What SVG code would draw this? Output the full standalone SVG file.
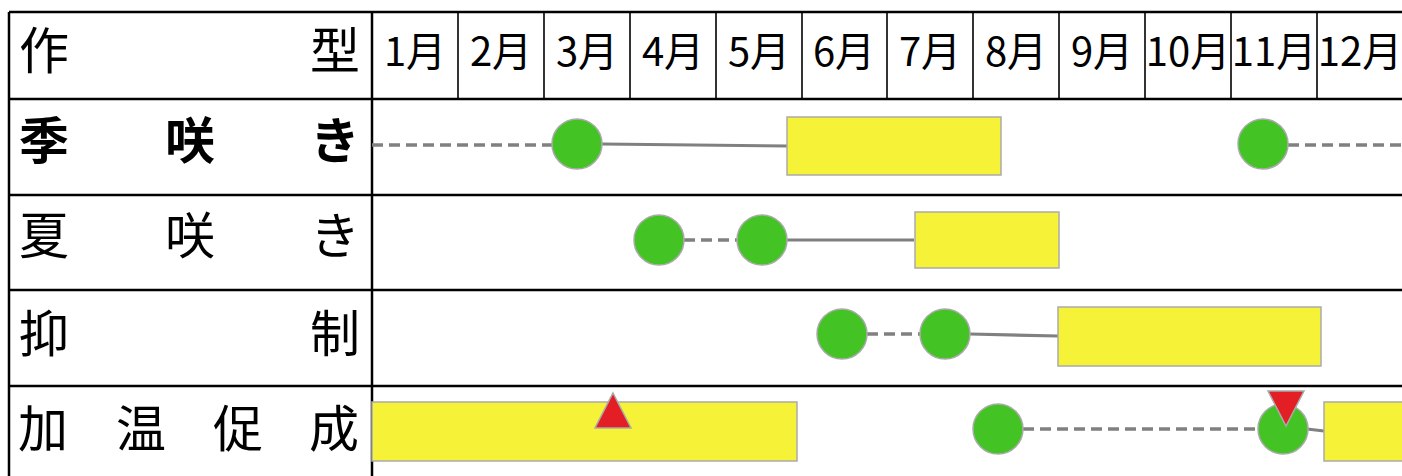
<svg xmlns="http://www.w3.org/2000/svg" width="1402" height="476" viewBox="0 0 1402 476">
  <style>
    .lbl { font-family: "Noto Sans CJK JP", "Noto Sans", sans-serif; font-size: 50px; fill: #000; text-anchor: middle; }
    .bold { font-weight: bold; }
    .mon { font-family: "Noto Sans CJK JP", "Noto Sans", sans-serif; font-size: 40px; fill: #000; text-anchor: middle; }
    .grid { stroke: #000; stroke-width: 2.5; fill: none; }
    .thin { stroke: #000; stroke-width: 1.6; fill: none; }
    .stage { fill: #44c424; stroke: #aaaaaa; stroke-width: 1.5; }
    .bar { fill: #f5f237; stroke: #aaaaaa; stroke-width: 1.5; }
    .mark { fill: #e31e24; stroke: #aaaaaa; stroke-width: 1.5; }
    .solid { stroke: #808080; stroke-width: 3.2; fill: none; }
    .dash { stroke: #808080; stroke-width: 3.6; fill: none; stroke-dasharray: 11 6; }
  </style>
  <rect x="0" y="0" width="1402" height="476" fill="#fff"/>

  <!-- table grid -->
  <g id="grid">
    <line class="grid" x1="9" y1="12" x2="1402" y2="12"/>
    <line class="grid" x1="9" y1="99" x2="1402" y2="99"/>
    <line class="grid" x1="9" y1="195" x2="1402" y2="195"/>
    <line class="grid" x1="9" y1="290" x2="1402" y2="290"/>
    <line class="grid" x1="9" y1="386" x2="1402" y2="386"/>
    <line class="grid" x1="9" y1="12" x2="9" y2="476"/>
    <line class="grid" x1="372" y1="12" x2="372" y2="476"/>
    <line class="thin" x1="458" y1="12" x2="458" y2="99"/>
    <line class="thin" x1="544" y1="12" x2="544" y2="99"/>
    <line class="thin" x1="630" y1="12" x2="630" y2="99"/>
    <line class="thin" x1="716" y1="12" x2="716" y2="99"/>
    <line class="thin" x1="802" y1="12" x2="802" y2="99"/>
    <line class="thin" x1="887" y1="12" x2="887" y2="99"/>
    <line class="thin" x1="973" y1="12" x2="973" y2="99"/>
    <line class="thin" x1="1059" y1="12" x2="1059" y2="99"/>
    <line class="thin" x1="1145" y1="12" x2="1145" y2="99"/>
    <line class="thin" x1="1231" y1="12" x2="1231" y2="99"/>
    <line class="thin" x1="1317" y1="12" x2="1317" y2="99"/>
  </g>

  <!-- header row -->
  <g id="header">
    <text class="lbl" x="44" y="69">作</text>
    <text class="lbl" x="335" y="69">型</text>
    <text class="mon" x="415" y="66">1月</text>
    <text class="mon" x="501" y="66">2月</text>
    <text class="mon" x="587" y="66">3月</text>
    <text class="mon" x="673" y="66">4月</text>
    <text class="mon" x="759" y="66">5月</text>
    <text class="mon" x="844" y="66">6月</text>
    <text class="mon" x="930" y="66">7月</text>
    <text class="mon" x="1016" y="66">8月</text>
    <text class="mon" x="1102" y="66">9月</text>
    <text class="mon" x="1188" y="66">10月</text>
    <text class="mon" x="1274" y="66">11月</text>
    <text class="mon" x="1360" y="66">12月</text>
  </g>

  <!-- row labels -->
  <g id="row-kizaki">
    <text class="lbl bold" x="44" y="159">季</text>
    <text class="lbl bold" x="190" y="159">咲</text>
    <text class="lbl bold" x="335" y="159">き</text>
  </g>
  <g id="row-natsuzaki">
    <text class="lbl" x="44" y="254">夏</text>
    <text class="lbl" x="190" y="254">咲</text>
    <text class="lbl" x="335" y="254">き</text>
  </g>
  <g id="row-yokusei">
    <text class="lbl" x="44" y="352">抑</text>
    <text class="lbl" x="335" y="352">制</text>
  </g>
  <g id="row-kaon">
    <text class="lbl" x="43" y="447">加</text>
    <text class="lbl" x="141" y="447">温</text>
    <text class="lbl" x="238" y="447">促</text>
    <text class="lbl" x="334" y="447">成</text>
  </g>

  <!-- connectors between stages -->
  <g id="connectors">
    <line class="dash" x1="372" y1="145" x2="552" y2="145"/>
    <line class="solid" x1="602" y1="144" x2="787" y2="146"/>
    <line class="dash" x1="1288" y1="145" x2="1402" y2="145"/>

    <line class="dash" x1="684" y1="240" x2="737" y2="240"/>
    <line class="solid" x1="787" y1="240" x2="914" y2="240"/>

    <line class="dash" x1="867" y1="334" x2="920" y2="334"/>
    <line class="solid" x1="970" y1="334" x2="1058" y2="336"/>

    <line class="dash" x1="1023" y1="429" x2="1258" y2="429"/>
    <line class="solid" x1="1307" y1="429" x2="1324" y2="431"/>
  </g>

  <!-- stages: 季咲き -->
  <g id="kizaki-sow"><circle class="stage" cx="577" cy="144" r="25"/></g>
  <g id="kizaki-bloom"><rect class="bar" x="787" y="117" width="214" height="58"/></g>
  <g id="kizaki-sow2"><circle class="stage" cx="1263" cy="144" r="25"/></g>

  <!-- stages: 夏咲き -->
  <g id="natsuzaki-sow"><circle class="stage" cx="659" cy="240" r="25"/></g>
  <g id="natsuzaki-plant"><circle class="stage" cx="762" cy="240" r="25"/></g>
  <g id="natsuzaki-bloom"><rect class="bar" x="915" y="212" width="144" height="56"/></g>

  <!-- stages: 抑制 -->
  <g id="yokusei-sow"><circle class="stage" cx="842" cy="334" r="25"/></g>
  <g id="yokusei-plant"><circle class="stage" cx="945" cy="334" r="25"/></g>
  <g id="yokusei-bloom"><rect class="bar" x="1058" y="307" width="263" height="59"/></g>

  <!-- stages: 加温促成 -->
  <g id="kaon-bloom"><rect class="bar" x="372" y="402" width="425" height="59"/></g>
  <g id="kaon-mark-up"><polygon class="mark" points="613,393 631,428 595,428"/></g>
  <g id="kaon-sow"><circle class="stage" cx="998" cy="429" r="25"/></g>
  <g id="kaon-plant"><circle class="stage" cx="1283" cy="429" r="25"/></g>
  <g id="kaon-mark-down"><polygon class="mark" points="1268,391 1304,391 1286,426"/></g>
  <g id="kaon-bloom2"><rect class="bar" x="1324" y="402" width="80" height="59"/></g>
</svg>
